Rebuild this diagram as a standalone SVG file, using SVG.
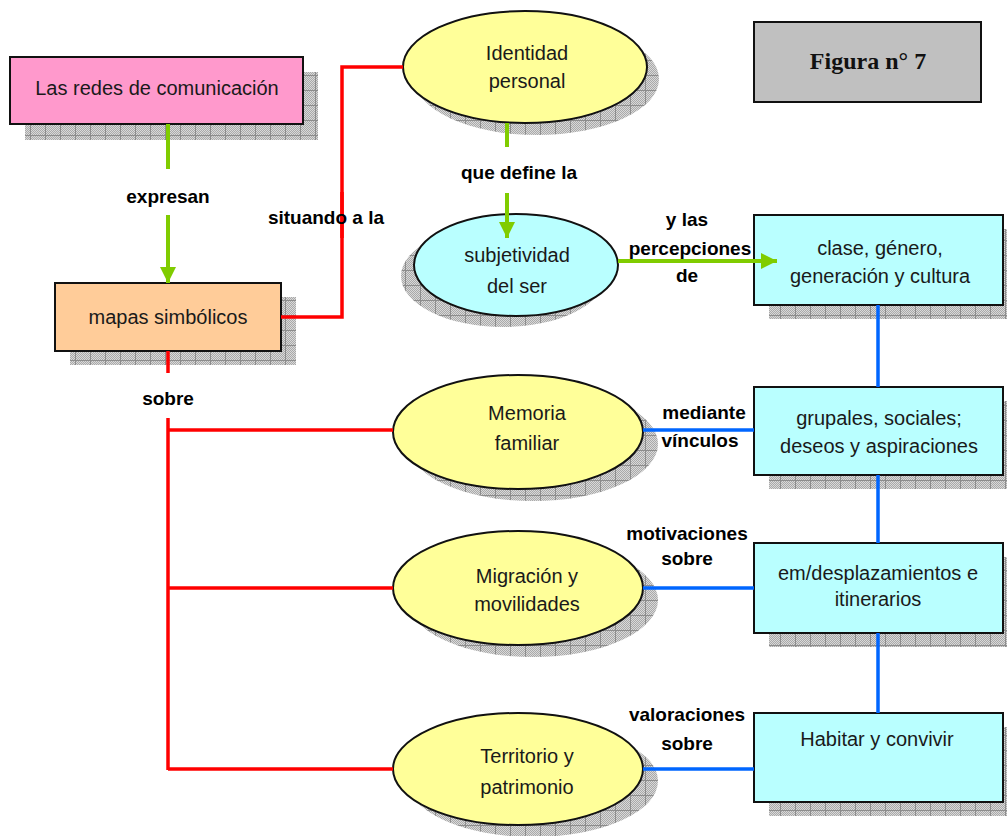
<svg xmlns="http://www.w3.org/2000/svg" width="1007" height="836" viewBox="0 0 1007 836">
<defs>
  <pattern id="dot" width="2" height="2" patternUnits="userSpaceOnUse">
    <rect width="2" height="2" fill="#d9d9d9"/>
    <rect width="1" height="1" fill="#a9a9a9"/>
    <rect x="1" y="1" width="1" height="1" fill="#a9a9a9"/>
  </pattern>
  <pattern id="shade" width="15" height="15" patternUnits="userSpaceOnUse">
    <rect width="15" height="15" fill="url(#dot)"/>
    <path d="M0 0.5H15M0.5 0V15" stroke="#8c8c8c" stroke-width="1" fill="none"/>
  </pattern>
  <marker id="ga" markerUnits="userSpaceOnUse" markerWidth="17" markerHeight="17" refX="16" refY="8" orient="auto">
    <path d="M0,0 L16,8 L0,16 z" fill="#80cc00"/>
  </marker>
</defs>
<style>
  .sh { fill: url(#shade); }
  .nd { stroke: #111; stroke-width: 2; }
  .t { font-family: "Liberation Sans", Arial, sans-serif; font-size: 20px; fill: #1a1a1a; text-anchor: middle; }
  .lb { font-family: "Liberation Sans", Arial, sans-serif; font-size: 19px; font-weight: bold; fill: #000; text-anchor: middle; }
  .red { stroke: #ff0000; stroke-width: 3.5; fill: none; }
  .grn { stroke: #80cc00; stroke-width: 4; fill: none; }
  .blu { stroke: #0066ff; stroke-width: 3.5; fill: none; }
</style>
<rect width="1007" height="836" fill="#ffffff"/>

<g id="redes">
  <rect class="sh" x="25" y="72" width="293" height="68"/>
  <rect class="nd" x="10" y="57" width="293" height="67" fill="#ff99cc"/>
  <text class="t" x="157" y="95">Las redes de comunicación</text>
</g>

<g id="mapas">
  <rect class="sh" x="70" y="297" width="226" height="68"/>
  <rect class="nd" x="55" y="283" width="226" height="68" fill="#ffcc99"/>
  <text class="t" x="168" y="324">mapas simbólicos</text>
</g>

<g id="identidad">
  <ellipse class="sh" cx="537" cy="79" rx="122" ry="56"/>
  <ellipse class="nd" cx="525" cy="67" rx="122" ry="56" fill="#ffff99"/>
  <text class="t" x="527" y="60">Identidad</text>
  <text class="t" x="527" y="88">personal</text>
</g>

<g id="subjetividad">
  <ellipse class="sh" cx="503" cy="276" rx="102" ry="51"/>
  <ellipse class="nd" cx="516" cy="265" rx="102" ry="51" fill="#b9ffff"/>
  <text class="t" x="517" y="262">subjetividad</text>
  <text class="t" x="517" y="293">del ser</text>
</g>

<g id="figura">
  <rect x="754" y="22" width="227" height="80" fill="#c0c0c0" stroke="#111" stroke-width="2"/>
  <text x="868" y="69" font-family="'Liberation Serif', 'Times New Roman', serif" font-size="24" font-weight="bold" fill="#111" text-anchor="middle">Figura n° 7</text>
</g>

<g id="clase">
  <rect class="sh" x="769" y="229" width="249" height="90"/>
  <rect class="nd" x="754" y="215" width="249" height="90" fill="#b9ffff"/>
  <text class="t" x="880" y="255">clase, género,</text>
  <text class="t" x="880" y="283">generación y cultura</text>
</g>

<g id="grupales">
  <rect class="sh" x="769" y="401" width="249" height="88"/>
  <rect class="nd" x="754" y="387" width="249" height="88" fill="#b9ffff"/>
  <text class="t" x="879" y="425">grupales, sociales;</text>
  <text class="t" x="879" y="453">deseos y aspiraciones</text>
</g>

<g id="desplazamientos">
  <rect class="sh" x="769" y="557" width="249" height="90"/>
  <rect class="nd" x="754" y="543" width="249" height="90" fill="#b9ffff"/>
  <text class="t" x="878" y="580">em/desplazamientos e</text>
  <text class="t" x="878" y="606">itinerarios</text>
</g>

<g id="habitar">
  <rect class="sh" x="769" y="727" width="249" height="89"/>
  <rect class="nd" x="754" y="713" width="249" height="89" fill="#b9ffff"/>
  <text class="t" x="877" y="746">Habitar y convivir</text>
</g>

<g id="memoria">
  <ellipse class="sh" cx="533" cy="444" rx="125" ry="57"/>
  <ellipse class="nd" cx="518" cy="432" rx="125" ry="57" fill="#ffff99"/>
  <text class="t" x="527" y="420">Memoria</text>
  <text class="t" x="527" y="450">familiar</text>
</g>

<g id="migracion">
  <ellipse class="sh" cx="533" cy="600" rx="125" ry="57"/>
  <ellipse class="nd" cx="518" cy="588" rx="125" ry="57" fill="#ffff99"/>
  <text class="t" x="527" y="583">Migración y</text>
  <text class="t" x="527" y="611">movilidades</text>
</g>

<g id="territorio">
  <ellipse class="sh" cx="533" cy="781" rx="125" ry="56"/>
  <ellipse class="nd" cx="518" cy="769" rx="125" ry="56" fill="#ffff99"/>
  <text class="t" x="527" y="763">Territorio y</text>
  <text class="t" x="527" y="794">patrimonio</text>
</g>

<g id="connectors">
  <path class="grn" d="M168 124V169"/>
  <path class="grn" d="M168 215V283" marker-end="url(#ga)"/>
  <path class="grn" d="M507 123V147"/>
  <path class="grn" d="M507 193V238" marker-end="url(#ga)"/>
  <path class="grn" d="M618 261H777" marker-end="url(#ga)"/>
  <path class="red" d="M281 317H342V192"/>
  <path class="red" d="M342 238V67H403"/>
  <path class="red" d="M168 351V373"/>
  <path class="red" d="M168 418V770"/>
  <path class="red" d="M168 430H393"/>
  <path class="red" d="M168 588H393"/>
  <path class="red" d="M168 769H393"/>
  <path class="blu" d="M643 430H754"/>
  <path class="blu" d="M643 588H754"/>
  <path class="blu" d="M643 769H754"/>
  <path class="blu" d="M878 305V387"/>
  <path class="blu" d="M878 475V543"/>
  <path class="blu" d="M878 633V713"/>
  <g id="labels">
    <text class="lb" x="168" y="203">expresan</text>
    <text class="lb" x="326" y="224">situando a la</text>
    <text class="lb" x="519" y="179">que define la</text>
    <text class="lb" x="687" y="226">y las</text>
    <text class="lb" x="690" y="255">percepciones</text>
    <text class="lb" x="687" y="282">de</text>
    <text class="lb" x="168" y="405">sobre</text>
    <text class="lb" x="704" y="419">mediante</text>
    <text class="lb" x="700" y="447">vínculos</text>
    <text class="lb" x="687" y="540">motivaciones</text>
    <text class="lb" x="687" y="565">sobre</text>
    <text class="lb" x="687" y="721">valoraciones</text>
    <text class="lb" x="687" y="750">sobre</text>
  </g>
</g>
</svg>
